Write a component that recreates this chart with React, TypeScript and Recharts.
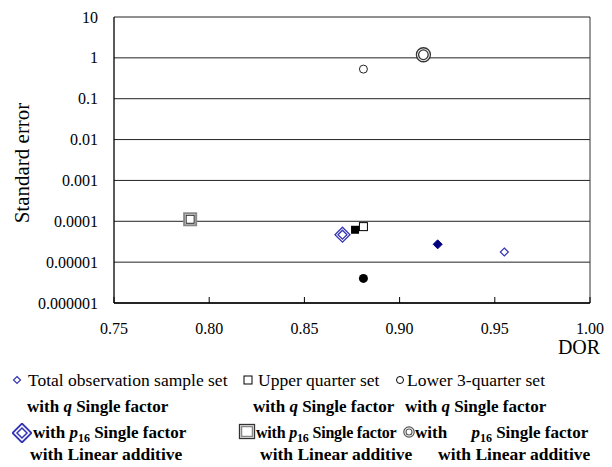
import { ScatterChart, Scatter, XAxis, YAxis, CartesianGrid, ReferenceLine, Label } from 'recharts';

const FONT = "'Liberation Serif', 'Times New Roman', serif";

const xTicks = [0.75, 0.8, 0.85, 0.9, 0.95, 1.0];
const yTicks = [0.000001, 0.00001, 0.0001, 0.001, 0.01, 0.1, 1, 10];
const yTickLabels = ['0.000001', '0.00001', '0.0001', '0.001', '0.01', '0.1', '1', '10'];

// q single factor (small hollow markers)
const totalQ = [{ dor: 0.955, se: 0.0000177 }];
const upperQ = [{ dor: 0.881, se: 0.000074 }];
const lowerQ = [{ dor: 0.881, se: 0.53 }];

// p16 single factor with linear additive (double markers)
const totalP16 = [{ dor: 0.87, se: 0.000047 }];
const upperP16 = [{ dor: 0.79, se: 0.000112 }];
const lowerP16 = [{ dor: 0.9125, se: 1.19 }];

// filled markers
const totalFilled = [{ dor: 0.92, se: 0.0000273 }];
const upperFilled = [{ dor: 0.8766, se: 0.000062 }];
const lowerFilled = [{ dor: 0.881, se: 0.000004 }];

const BLUE = '#3535b5';
const NAVY = '#000080';

const diamondPath = (cx: number, cy: number, r: number) =>
  `M${cx},${cy - r}L${cx + r},${cy}L${cx},${cy + r}L${cx - r},${cy}Z`;

const SmallDiamond = ({ cx, cy }: any) => (
  <path d={diamondPath(cx, cy, 4)} fill="#fff" stroke={BLUE} strokeWidth={1.2} />
);
const FilledDiamond = ({ cx, cy }: any) => <path d={diamondPath(cx, cy, 4.5)} fill={NAVY} stroke={NAVY} />;
const DoubleDiamond = ({ cx, cy }: any) => (
  <g>
    <path d={diamondPath(cx, cy, 7.5)} fill="#fff" stroke={BLUE} strokeWidth={1.3} />
    <path d={diamondPath(cx, cy, 4.5)} fill="#fff" stroke={BLUE} strokeWidth={1.3} />
  </g>
);
const SmallSquare = ({ cx, cy }: any) => (
  <rect x={cx - 4} y={cy - 4} width={8} height={8} fill="#fff" stroke="#000" strokeWidth={1} />
);
const FilledSquare = ({ cx, cy }: any) => <rect x={cx - 4} y={cy - 4} width={8} height={8} fill="#000" />;
const DoubleSquare = ({ cx, cy }: any) => (
  <g>
    <rect x={cx - 6} y={cy - 6} width={12} height={12} fill="#fff" stroke="#888" strokeWidth={2} />
    <rect x={cx - 4} y={cy - 4} width={8} height={8} fill="#fff" stroke="#222" strokeWidth={1} />
  </g>
);
const SmallCircle = ({ cx, cy }: any) => <circle cx={cx} cy={cy} r={4} fill="#fff" stroke="#222" strokeWidth={1} />;
const FilledCircle = ({ cx, cy }: any) => <circle cx={cx} cy={cy} r={4.5} fill="#000" />;
const DoubleCircle = ({ cx, cy }: any) => (
  <g>
    <circle cx={cx} cy={cy} r={7} fill="#fff" stroke="#333" strokeWidth={1.3} />
    <circle cx={cx} cy={cy} r={4.8} fill="#fff" stroke="#333" strokeWidth={1.3} />
  </g>
);

const YTick = ({ x, y, payload }: any) => (
  <text x={x} y={y} dy="0.35em" textAnchor="end" fontSize={16} fontFamily={FONT} fill="#000">
    {yTickLabels[payload.index] ?? payload.value}
  </text>
);

const XTick = ({ x, y, payload }: any) => (
  <g>
    <line x1={x} x2={x} y1={y} y2={y - 6} stroke="#000" />
    <text x={x} y={y + 25} dy="0.35em" textAnchor="middle" fontSize={16} fontFamily={FONT} fill="#000">
      {payload.value.toFixed(2)}
    </text>
  </g>
);

const row = (top: number, left: number, content: any, bold = true, size = 17, spacing = 0) => (
  <div
    style={{
      position: 'absolute',
      left,
      top: top - 11,
      lineHeight: '22px',
      fontSize: size,
      fontWeight: bold ? 'bold' : 'normal',
      letterSpacing: spacing,
      whiteSpace: 'nowrap',
    }}
  >
    {content}
  </div>
);

const icon = (cx: number, cy: number, child: any) => (
  <svg style={{ position: 'absolute', left: cx - 10, top: cy - 10 }} width={20} height={20}>
    {child}
  </svg>
);

const P16 = () => (
  <>
    <i>p</i>
    <sub style={{ fontSize: 12, verticalAlign: '-4px', lineHeight: 0 }}>16</sub>
  </>
);

export default function App() {
  return (
    <div style={{ position: 'absolute', left: 0, top: 0, width: 612, height: 467, fontFamily: FONT, background: '#fff' }}>
      <ScatterChart width={612} height={360} margin={{ top: 17, right: 22, left: 0, bottom: 27 }}>
        <CartesianGrid vertical={false} stroke="#222" strokeWidth={1} />
        <XAxis
          type="number"
          dataKey="dor"
          domain={[0.75, 1.0]}
          ticks={xTicks}
          tickSize={0}
          tickMargin={0}
          height={30}
          axisLine={{ stroke: '#000', strokeWidth: 1.3 }}
          tick={<XTick />}
        >
          <Label
            content={() => (
              <text x={579} y={347} dy="0.35em" textAnchor="middle" fontSize={20} fontFamily={FONT} fill="#000">
                DOR
              </text>
            )}
          />
        </XAxis>
        <YAxis
          type="number"
          dataKey="se"
          scale="log"
          domain={[0.000001, 10]}
          allowDataOverflow
          ticks={yTicks}
          width={114}
          tickSize={0}
          tickMargin={16}
          axisLine={{ stroke: '#000', strokeWidth: 1.3 }}
          tick={<YTick />}
        >
          <Label
            content={() => (
              <text
                x={22}
                y={163}
                dy="0.35em"
                textAnchor="middle"
                fontSize={21}
                fontFamily={FONT}
                fill="#000"
                transform="rotate(-90 22 163)"
              >
                Standard error
              </text>
            )}
          />
        </YAxis>
        <ReferenceLine x={1.0} stroke="#333" strokeWidth={1} />
        <Scatter name="Total q" data={totalQ} shape={<SmallDiamond />} isAnimationActive={false} />
        <Scatter name="Upper q" data={upperQ} shape={<SmallSquare />} isAnimationActive={false} />
        <Scatter name="Lower q" data={lowerQ} shape={<SmallCircle />} isAnimationActive={false} />
        <Scatter name="Total p16" data={totalP16} shape={<DoubleDiamond />} isAnimationActive={false} />
        <Scatter name="Upper p16" data={upperP16} shape={<DoubleSquare />} isAnimationActive={false} />
        <Scatter name="Lower p16" data={lowerP16} shape={<DoubleCircle />} isAnimationActive={false} />
        <Scatter name="Total filled" data={totalFilled} shape={<FilledDiamond />} isAnimationActive={false} />
        <Scatter name="Upper filled" data={upperFilled} shape={<FilledSquare />} isAnimationActive={false} />
        <Scatter name="Lower filled" data={lowerFilled} shape={<FilledCircle />} isAnimationActive={false} />
      </ScatterChart>

      {/* legend */}
      {icon(17, 380, <path d={diamondPath(10, 10, 3.5)} fill="#fff" stroke={BLUE} strokeWidth={1.2} />)}
      {row(380, 28, 'Total observation sample set', false, 17.5)}
      {icon(248, 380, <rect x={6} y={6} width={8} height={8} fill="#fff" stroke="#000" />)}
      {row(380, 258, 'Upper quarter set', false, 17.5)}
      {icon(400, 380, <circle cx={10} cy={10} r={3.5} fill="#fff" stroke="#000" />)}
      {row(380, 407, 'Lower 3-quarter set', false, 17.5)}

      {row(407, 27, <>with <i>q</i> Single factor</>)}
      {row(407, 253, <>with <i>q</i> Single factor</>)}
      {row(407, 405, <>with <i>q</i> Single factor</>)}

      {icon(
        22,
        433,
        <g>
          <path d={diamondPath(10, 10, 9.5)} fill="#fff" stroke={BLUE} strokeWidth={1.8} />
          <path d={diamondPath(10, 10, 5)} fill="#fff" stroke={BLUE} strokeWidth={1.5} />
        </g>
      )}
      {row(433, 33, <>with <P16 /> Single factor</>)}
      {icon(
        247,
        432,
        <g>
          <rect x={2.5} y={2.5} width={15} height={14} fill="#fff" stroke="#333" strokeWidth={1.3} />
          <rect x={4.5} y={4.5} width={11} height={10} fill="#fff" stroke="#888" strokeWidth={1.5} />
        </g>
      )}
      {row(433, 256, <>with <P16 /> Single factor</>, true, 16, -0.2)}
      {icon(
        409,
        432,
        <g>
          <circle cx={10} cy={10} r={5.2} fill="#fff" stroke="#555" strokeWidth={1.2} />
          <circle cx={10} cy={10} r={3} fill="#fff" stroke="#555" strokeWidth={1.1} />
        </g>
      )}
      {row(433, 415, <>with <span style={{ marginLeft: 20 }} /><P16 /> Single factor</>)}

      {row(454, 30, 'with Linear additive', true, 17.5)}
      {row(454, 260, 'with Linear additive', true, 17.5)}
      {row(454, 438, 'with Linear additive', true, 17.5)}
    </div>
  );
}
